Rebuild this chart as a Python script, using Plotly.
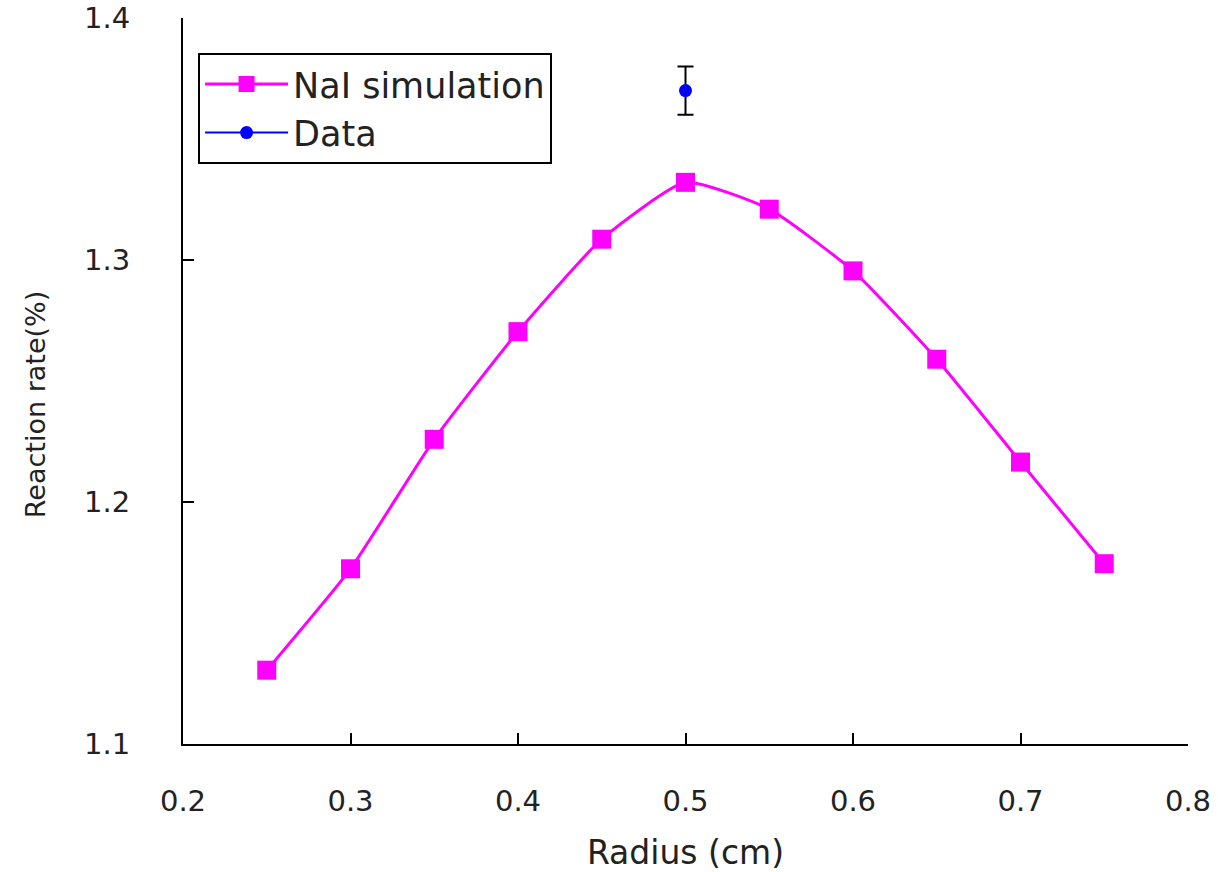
import plotly.graph_objects as go

radius = [0.25, 0.30, 0.35, 0.40, 0.45, 0.50, 0.55, 0.60, 0.65, 0.70, 0.75]
sim_rate = [1.1305, 1.1724, 1.2259, 1.2704, 1.3086, 1.3321, 1.3210, 1.2955, 1.2590, 1.2165, 1.1745]
data_radius = [0.5]
data_rate = [1.370]
data_err = [0.0100]

font_family = "DejaVu Sans, Liberation Sans, sans-serif"

fig = go.Figure()
fig.add_trace(go.Scatter(
    x=radius, y=sim_rate, mode="lines+markers", name="NaI simulation",
    line=dict(color="#ff00ff", width=3, shape="spline", smoothing=0.5),
    marker=dict(symbol="square", size=19, color="#ff00ff"),
))
fig.add_trace(go.Scatter(
    x=data_radius, y=data_rate, mode="lines+markers", name="Data",
    marker=dict(symbol="circle", size=13, color="#0000ff"),
    error_y=dict(type="data", array=data_err, visible=True, color="black", thickness=2, width=8),
    line=dict(color="#0000ff", width=2),
))
fig.update_layout(
    width=1218, height=872,
    margin=dict(l=183, r=30, t=18, b=128, autoexpand=False),
    paper_bgcolor="white", plot_bgcolor="white",
    font=dict(family=font_family, size=29, color="#222"),
    showlegend=True,
    legend=dict(
        x=0.015, y=0.952, xanchor="left", yanchor="top",
        bordercolor="black", borderwidth=2, bgcolor="white",
        font=dict(size=35), itemwidth=83, tracegroupgap=0,
    ),
    xaxis=dict(
        range=[0.2, 0.8], tickvals=[0.2, 0.3, 0.4, 0.5, 0.6, 0.7, 0.8],
        ticktext=["0.2", "0.3", "0.4", "0.5", "0.6", "0.7", "0.8"],
        showgrid=False, zeroline=False, showline=True, linecolor="black", linewidth=2,
        ticks="inside", ticklen=11, tickwidth=2, tickcolor="black",
        ticklabelstandoff=30, automargin=False, ticklabeloverflow="allow",
        title=dict(text="Radius (cm)", font=dict(size=33), standoff=24),
    ),
    yaxis=dict(
        range=[1.1, 1.4], tickvals=[1.1, 1.2, 1.3, 1.4],
        ticktext=["1.1", "1.2", "1.3", "1.4"],
        showgrid=False, zeroline=False, showline=True, linecolor="black", linewidth=2,
        ticks="inside", ticklen=11, tickwidth=2, tickcolor="black",
        ticklabelstandoff=45, automargin=False, ticklabeloverflow="allow",
    ),
    annotations=[dict(
        text="Reaction rate(%)", textangle=-90, showarrow=False,
        xref="paper", yref="paper", x=-0.1473, y=0.468,
        xanchor="center", yanchor="middle", font=dict(size=27),
    )],
)
fig.write_html("out.html")
